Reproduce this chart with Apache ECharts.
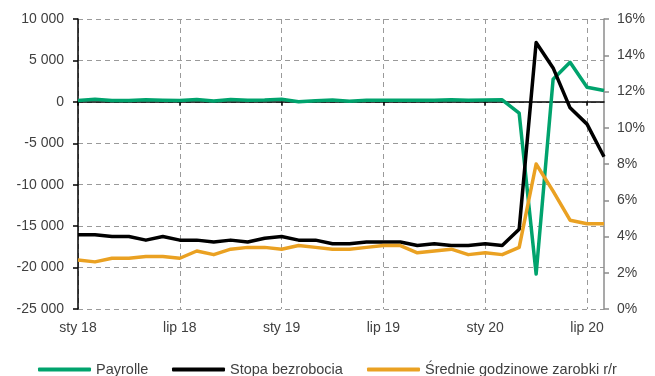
<!DOCTYPE html>
<html>
<head>
<meta charset="utf-8">
<script src="https://cdn.jsdelivr.net/npm/echarts@6/dist/echarts.min.js"></script>
<style>
  html, body { margin: 0; padding: 0; background: #fff; }
  #chart { width: 655px; height: 376px; }
</style>
</head>
<body>
<div id="chart"></div>
<script>
// Monthly labels, Jan 2018 - Aug 2020
const months = [
  'sty 18','lut 18','mar 18','kwi 18','maj 18','cze 18','lip 18','sie 18','wrz 18','paź 18','lis 18','gru 18',
  'sty 19','lut 19','mar 19','kwi 19','maj 19','cze 19','lip 19','sie 19','wrz 19','paź 19','lis 19','gru 19',
  'sty 20','lut 20','mar 20','kwi 20','maj 20','cze 20','lip 20','sie 20'
];

// Nonfarm payrolls, m/m change (thousands) - left axis
const payrolle = [
  176, 324, 155, 175, 268, 208, 178, 282, 108, 277, 196, 227,
  312, 1, 147, 210, 85, 182, 194, 207, 208, 185, 261, 184,
  214, 251, -1373, -20787, 2725, 4781, 1761, 1371
];

// Unemployment rate, % - right axis
const stopaBezrobocia = [
  4.1, 4.1, 4.0, 4.0, 3.8, 4.0, 3.8, 3.8, 3.7, 3.8, 3.7, 3.9,
  4.0, 3.8, 3.8, 3.6, 3.6, 3.7, 3.7, 3.7, 3.5, 3.6, 3.5, 3.5,
  3.6, 3.5, 4.4, 14.7, 13.3, 11.1, 10.2, 8.4
];

// Average hourly earnings, y/y % - right axis
const srednieZarobki = [
  2.7, 2.6, 2.8, 2.8, 2.9, 2.9, 2.8, 3.2, 3.0, 3.3, 3.4, 3.4,
  3.3, 3.5, 3.4, 3.3, 3.3, 3.4, 3.5, 3.5, 3.1, 3.2, 3.3, 3.0,
  3.1, 3.0, 3.4, 8.0, 6.5, 4.9, 4.7, 4.7
];

const seriesNames = ['Payrolle', 'Stopa bezrobocia', 'Średnie godzinowe zarobki r/r'];

function spaced(v) {
  const s = Math.abs(v).toString().replace(/\B(?=(\d{3})+(?!\d))/g, ' ');
  return (v < 0 ? '-' : '') + s;
}

const FONT = 'Liberation Sans';
const LABEL_COLOR = '#404040';
const GRID_COLOR = '#9a9a9a';

// one legend entry per series, each placed on its own along the bottom row
const legendLefts = [33, 167, 362];
const legends = seriesNames.map((name, i) => ({
  data: [name],
  left: legendLefts[i],
  top: 357,
  itemWidth: 53,
  itemHeight: 4,
  icon: 'roundRect',
  selectedMode: false,
  textStyle: { fontFamily: FONT, fontSize: 14.5, color: LABEL_COLOR }
}));

const chart = echarts.init(document.getElementById('chart'), null, { renderer: 'canvas' });

chart.setOption({
  animation: false,
  backgroundColor: '#ffffff',
  textStyle: { fontFamily: FONT },
  grid: { left: 78, right: 51, top: 19, bottom: 67, containLabel: false, outerBoundsMode: 'none' },
  legend: legends,
  xAxis: [
    {
      // label axis at the bottom with vertical dashed grid every 6 months
      type: 'category',
      data: months,
      boundaryGap: false,
      position: 'bottom',
      axisLine: { show: false, onZero: false },
      axisTick: { show: false },
      axisLabel: {
        interval: 5,
        margin: 12,
        fontFamily: FONT,
        fontSize: 14,
        color: LABEL_COLOR
      },
      splitLine: {
        show: true,
        interval: 5,
        lineStyle: { color: GRID_COLOR, type: [5, 4], width: 1 }
      }
    },
    {
      // zero line with ticks
      type: 'category',
      data: months,
      boundaryGap: false,
      position: 'bottom',
      axisLine: { show: true, onZero: true, onZeroAxisIndex: 0, lineStyle: { color: '#000', width: 1.5 } },
      axisTick: { show: true, interval: 5, length: 4, lineStyle: { color: '#000', width: 1.5 } },
      axisLabel: { show: false },
      splitLine: { show: false }
    }
  ],
  yAxis: [
    {
      type: 'value',
      min: -25000,
      max: 10000,
      interval: 5000,
      position: 'left',
      axisLine: { show: true, lineStyle: { color: '#000', width: 1.5 } },
      axisTick: { show: true, length: 5, lineStyle: { color: '#000', width: 1.5 } },
      axisLabel: {
        margin: 14,
        fontFamily: FONT,
        fontSize: 14,
        color: LABEL_COLOR,
        formatter: spaced
      },
      splitLine: { show: true, lineStyle: { color: GRID_COLOR, type: [5, 4], width: 1 } }
    },
    {
      type: 'value',
      min: 0,
      max: 16,
      interval: 2,
      position: 'right',
      axisLine: { show: true, lineStyle: { color: '#8c8c8c', width: 1.5 } },
      axisTick: { show: true, length: 5, lineStyle: { color: '#8c8c8c', width: 1.5 } },
      axisLabel: {
        margin: 13,
        fontFamily: FONT,
        fontSize: 14,
        color: LABEL_COLOR,
        formatter: '{value}%'
      },
      splitLine: { show: false }
    }
  ],
  series: [
    {
      name: seriesNames[0],
      type: 'line',
      xAxisIndex: 0,
      yAxisIndex: 0,
      data: payrolle,
      showSymbol: false,
      symbol: 'none',
      color: '#00a36d',
      lineStyle: { width: 3.5, color: '#00a36d', join: 'round' }
    },
    {
      name: seriesNames[1],
      type: 'line',
      xAxisIndex: 0,
      yAxisIndex: 1,
      data: stopaBezrobocia,
      showSymbol: false,
      symbol: 'none',
      color: '#000000',
      lineStyle: { width: 3.5, color: '#000000', join: 'round' }
    },
    {
      name: seriesNames[2],
      type: 'line',
      xAxisIndex: 0,
      yAxisIndex: 1,
      data: srednieZarobki,
      showSymbol: false,
      symbol: 'none',
      color: '#eaa122',
      lineStyle: { width: 3.5, color: '#eaa122', join: 'round' }
    }
  ]
});
</script>
</body>
</html>
